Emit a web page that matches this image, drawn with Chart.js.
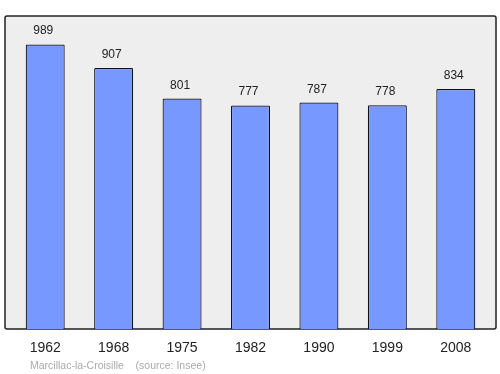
<!DOCTYPE html>
<html><head><meta charset="utf-8">
<script src="https://cdn.jsdelivr.net/npm/chart.js@4"></script>
<style>html,body{margin:0;padding:0;background:#fff}#w{width:500px;height:374px}</style>
</head><body><div id="w"><canvas id="c" width="500" height="374"></canvas></div>
<script>
const years = ["1962","1968","1975","1982","1990","1999","2008"];
const population = [989, 907, 801, 777, 787, 778, 834];
const sourceText = "Marcillac-la-Croisille    (source: Insee)";
const FONT = "'Liberation Sans', Arial, sans-serif";

const frame = {
  id: 'frame',
  beforeDraw(chart) {
    const {ctx, chartArea: a} = chart;
    ctx.save();
    ctx.fillStyle = '#eeeeee';
    ctx.strokeStyle = '#222222';
    ctx.lineWidth = 1.5;
    ctx.beginPath();
    ctx.roundRect(a.left - 6, a.top, a.right - a.left + 12, a.bottom - a.top, 2);
    ctx.fill();
    ctx.stroke();
    ctx.restore();
  },
  afterDatasetsDraw(chart) {
    const {ctx} = chart;
    const meta = chart.getDatasetMeta(0);
    ctx.save();
    ctx.fillStyle = '#222';
    ctx.font = '12px ' + FONT;
    ctx.textAlign = 'center';
    ctx.textBaseline = 'alphabetic';
    meta.data.forEach((bar, i) => {
      ctx.fillText(String(population[i]), bar.x - 2, bar.y - 10);
    });
    ctx.fillStyle = '#aaaaaa';
    ctx.font = '10.5px ' + FONT;
    ctx.textAlign = 'left';
    ctx.fillText(sourceText, 30, 369);
    ctx.restore();
  }
};

new Chart(document.getElementById('c'), {
  type: 'bar',
  data: {
    labels: years,
    datasets: [{
      data: population,
      backgroundColor: '#7799ff',
      borderColor: '#111122',
      borderWidth: 1.2,
      borderRadius: 1,
      borderSkipped: 'bottom',
      categoryPercentage: 1,
      barPercentage: 0.57
    }]
  },
  options: {
    responsive: false,
    animation: false,
    devicePixelRatio: 1,
    layout: {padding: {left: 11, right: 10, top: 16, bottom: 0}},
    plugins: {legend: {display: false}, tooltip: {enabled: false}},
    scales: {
      y: {display: false, min: 0, max: 1088},
      x: {
        grid: {display: false},
        border: {display: false},
        ticks: {color: '#222', font: {family: FONT, size: 14}, padding: 3, maxRotation: 0},
        afterFit(s) { s.height = 45; }
      }
    }
  },
  plugins: [frame]
});
</script></body></html>
